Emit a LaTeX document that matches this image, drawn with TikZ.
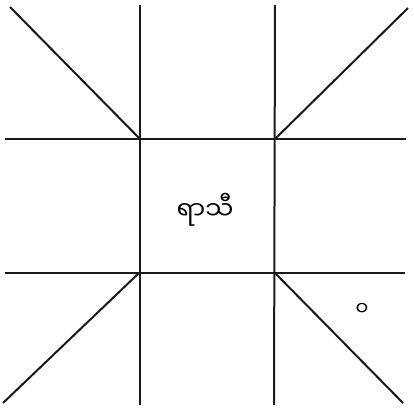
\documentclass[tikz,border=0pt]{standalone}
\usepackage{fontspec}
\newfontfamily\mmfont[Script=Myanmar]{Noto Sans Myanmar UI}
\usetikzlibrary{positioning}

\begin{document}
\begin{tikzpicture}[
		x=1pt, y=-1pt,
		grid/.style={line width=2pt, black!90},
		rasilabel/.style={font=\mmfont\fontsize{25}{30}\selectfont, inner sep=0pt},
		smallmark/.style={font=\mmfont\fontsize{19}{22}\selectfont, inner sep=0pt}
		]
		\useasboundingbox (0,0) rectangle (414,415);
		
		% inner square corners
		\coordinate (tl) at (140,139);
		\coordinate (tr) at (275,139);
		\coordinate (bl) at (139,273);
		\coordinate (br) at (275,273);
		
		% grid lines
		\draw[grid] (140,5) -- (140,405);
		\draw[grid] (275,5) -- (274,405);
		\draw[grid] (5,139) -- (406,139);
		\draw[grid] (5,273) -- (405,273);
		
		% corner diagonals
		\draw[grid] (10,7) -- (tl);
		\draw[grid] (tr) -- (408,8);
		\draw[grid] (bl) -- (3,403);
		\draw[grid] (br) -- (403,403);
		
		% texts
		\node[rasilabel] (rasi) at (205,210) {ရာသီ};
		\node[smallmark] (wa) at (362,309) {ဝ};
		
	\end{tikzpicture}
\end{document}
